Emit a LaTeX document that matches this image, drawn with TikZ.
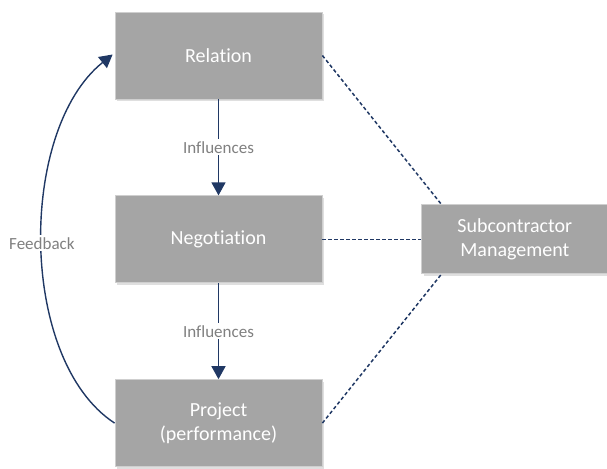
\documentclass[tikz,border=0pt]{standalone}
\usepackage{fontspec}
\setmainfont{Carlito}[Ligatures=NoCommon]
\usetikzlibrary{arrows.meta,positioning,shadows}

\definecolor{boxgray}{HTML}{A5A5A5}
\definecolor{boxline}{HTML}{CFCFCF}
\definecolor{navy}{HTML}{203864}
\definecolor{labelgray}{HTML}{808080}

\begin{document}
\begin{tikzpicture}[
      x=1pt,y=1pt,
      node distance=96pt and 99pt,
      box/.style={draw=boxline,line width=0.8pt,fill=boxgray,text=white,minimum width=207pt,minimum height=87pt,align=center,
        font=\fontsize{20}{24}\selectfont,drop shadow={opacity=0.25,shadow xshift=2pt,shadow yshift=-2pt}},
      lbl/.style={fill=white,text=labelgray,font=\fontsize{17}{20}\selectfont,inner sep=2pt},
      flow/.style={draw=navy,line width=1.4pt,-{Triangle[length=13pt,width=14pt]}},
      link/.style={draw=navy,line width=1.5pt,dash pattern=on 3.5pt off 2.5pt}
    ]
      \useasboundingbox (0,0) rectangle (607,468);

      % Layers
      \node[box] (relation) at (218.5,412.5) {Relation};
      \node[box,below=of relation] (negotiation) {Negotiation};
      \node[box,below=of negotiation] (project) {Project\\(performance)};

      % Management block
      \node[box,right=of negotiation,minimum width=186pt,minimum height=69pt,anchor=west] (sub) {Subcontractor\\Management};

      % Influence arrows
      \draw[flow] (relation.south) -- node[lbl] {Influences} (negotiation.north);
      \draw[flow] (negotiation.south) -- node[lbl] {Influences} (project.north);

      % Feedback loop
      \draw[flow] (project.west) .. controls (18,108) and (18,338) .. node[lbl] {Feedback} ([xshift=-2pt,yshift=1pt]relation.west);

      % Dotted links to management
      \draw[link] (relation.east) -- ([xshift=20pt]sub.north west);
      \draw[link] (negotiation.east) -- (sub.west);
      \draw[link] (project.east) -- ([xshift=20pt]sub.south west);
    \end{tikzpicture}
\end{document}
